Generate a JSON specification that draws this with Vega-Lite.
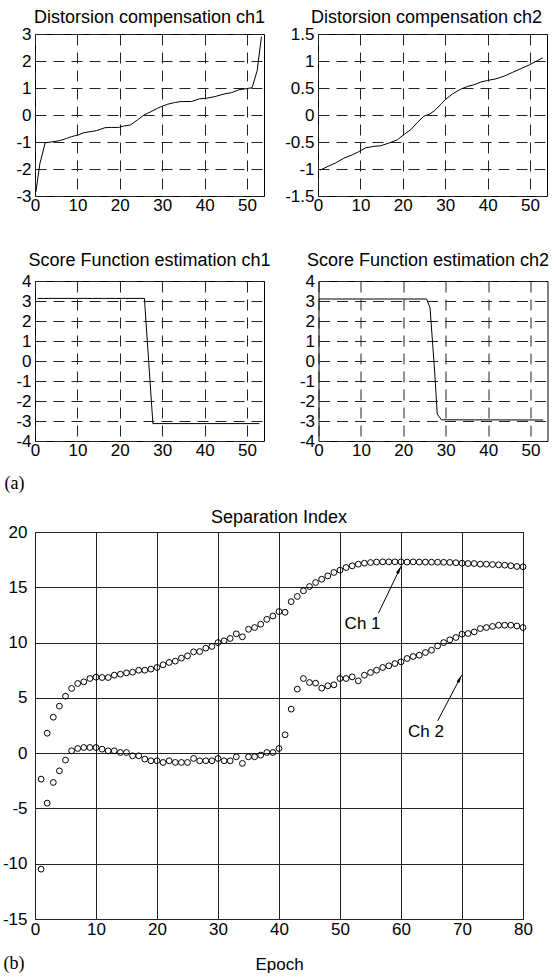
{
  "$schema": "https://vega.github.io/schema/vega-lite/v6.json",
  "background": "white",
  "padding": {"left": 0, "top": 8, "right": 3, "bottom": 2},
  "config": {
    "view": {"stroke": "black", "strokeWidth": 1},
    "axis": {
      "domain": false, "ticks": false, "tickSize": 0,
      "labelFont": "Liberation Sans", "labelFontSize": 17, "labelColor": "black",
      "gridColor": "#222", "gridOpacity": 1, "gridWidth": 1, "gridDash": [11, 7],
      "title": null, "labelFlush": false, "labelOverlap": false
    },
    "axisY": {"minExtent": 34, "maxExtent": 200},
    "title": {"font": "Liberation Sans", "fontSize": 18, "fontWeight": "normal", "color": "black", "frame": "group", "baseline": "alphabetic", "anchor": "middle"},
    "text": {"font": "Liberation Sans"}
  },
  "datasets": {
    "dc1": [{"x":0.2,"y":-2.85},{"x":1.15,"y":-1.8},{"x":2.4,"y":-1.03},{"x":4.2,"y":-0.99},{"x":5.8,"y":-0.95},{"x":7.4,"y":-0.87},{"x":8.6,"y":-0.8},{"x":10.2,"y":-0.74},{"x":11.4,"y":-0.66},{"x":12.9,"y":-0.62},{"x":14.5,"y":-0.58},{"x":16.5,"y":-0.47},{"x":18.1,"y":-0.46},{"x":19.7,"y":-0.46},{"x":20.9,"y":-0.41},{"x":22.5,"y":-0.37},{"x":24.1,"y":-0.19},{"x":25.7,"y":0},{"x":27.3,"y":0.12},{"x":28.9,"y":0.25},{"x":30.1,"y":0.33},{"x":31.3,"y":0.4},{"x":32.9,"y":0.46},{"x":34.5,"y":0.5},{"x":36.9,"y":0.5},{"x":38.8,"y":0.6},{"x":40.4,"y":0.62},{"x":42.4,"y":0.68},{"x":44.4,"y":0.77},{"x":46.4,"y":0.83},{"x":48,"y":0.93},{"x":49.6,"y":0.97},{"x":51.2,"y":1.01},{"x":52.4,"y":1.65},{"x":53.4,"y":2.9}],
    "dc2": [{"x":0.55,"y":-1.02},{"x":2.1,"y":-0.96},{"x":4.1,"y":-0.89},{"x":6.1,"y":-0.8},{"x":8.0,"y":-0.74},{"x":9.6,"y":-0.68},{"x":11.2,"y":-0.61},{"x":13.2,"y":-0.58},{"x":14.8,"y":-0.57},{"x":16.7,"y":-0.52},{"x":18.7,"y":-0.46},{"x":20.3,"y":-0.36},{"x":21.9,"y":-0.27},{"x":23.4,"y":-0.14},{"x":25.0,"y":-0.02},{"x":26.2,"y":0.01},{"x":27.4,"y":0.075},{"x":29,"y":0.2},{"x":30.1,"y":0.29},{"x":31.7,"y":0.39},{"x":33.7,"y":0.48},{"x":35.3,"y":0.53},{"x":36.8,"y":0.56},{"x":38.4,"y":0.61},{"x":40,"y":0.64},{"x":42,"y":0.67},{"x":43.9,"y":0.72},{"x":45.9,"y":0.79},{"x":47.9,"y":0.86},{"x":49.9,"y":0.93},{"x":51.8,"y":1.01},{"x":53,"y":1.06}],
    "sf1": [{"x":0.6,"y":3.13},{"x":25.8,"y":3.13},{"x":27.8,"y":-3.13},{"x":52.9,"y":-3.13}],
    "sf2": [{"x":0.1,"y":3.1},{"x":25.5,"y":3.1},{"x":26.3,"y":2.66},{"x":26.8,"y":1.21},{"x":27.4,"y":-0.56},{"x":28,"y":-2.66},{"x":29,"y":-2.94},{"x":53,"y":-2.95}],
    "sep": [
      {"epoch":1,"value":-2.35},{"epoch":2,"value":1.8},{"epoch":3,"value":3.25},{"epoch":4,"value":4.25},{"epoch":5,"value":5.15},{"epoch":6,"value":5.85},{"epoch":7,"value":6.3},{"epoch":8,"value":6.45},{"epoch":9,"value":6.75},{"epoch":10,"value":6.87},
      {"epoch":11,"value":6.84},{"epoch":12,"value":6.84},{"epoch":13,"value":7.05},{"epoch":14,"value":7.14},{"epoch":15,"value":7.26},{"epoch":16,"value":7.32},{"epoch":17,"value":7.5},{"epoch":18,"value":7.5},{"epoch":19,"value":7.6},{"epoch":20,"value":7.75},
      {"epoch":21,"value":7.99},{"epoch":22,"value":8.2},{"epoch":23,"value":8.32},{"epoch":24,"value":8.59},{"epoch":25,"value":8.8},{"epoch":26,"value":9.16},{"epoch":27,"value":9.19},{"epoch":28,"value":9.49},{"epoch":29,"value":9.65},{"epoch":30,"value":10.0},
      {"epoch":31,"value":10.16},{"epoch":32,"value":10.37},{"epoch":33,"value":10.79},{"epoch":34,"value":10.52},{"epoch":35,"value":11.2},{"epoch":36,"value":11.36},{"epoch":37,"value":11.66},{"epoch":38,"value":12.1},{"epoch":39,"value":12.4},{"epoch":40,"value":12.8},
      {"epoch":41,"value":12.74},{"epoch":42,"value":13.7},{"epoch":43,"value":14.17},{"epoch":44,"value":14.68},{"epoch":45,"value":15.07},{"epoch":46,"value":15.43},{"epoch":47,"value":15.73},{"epoch":48,"value":16.03},{"epoch":49,"value":16.34},{"epoch":50,"value":16.55},
      {"epoch":51,"value":16.79},{"epoch":52,"value":16.94},{"epoch":53,"value":17.09},{"epoch":54,"value":17.18},{"epoch":55,"value":17.24},{"epoch":56,"value":17.28},{"epoch":57,"value":17.3},{"epoch":58,"value":17.3},{"epoch":59,"value":17.3},{"epoch":60,"value":17.3},
      {"epoch":61,"value":17.28},{"epoch":62,"value":17.3},{"epoch":63,"value":17.28},{"epoch":64,"value":17.28},{"epoch":65,"value":17.27},{"epoch":66,"value":17.27},{"epoch":67,"value":17.26},{"epoch":68,"value":17.25},{"epoch":69,"value":17.22},{"epoch":70,"value":17.18},
      {"epoch":71,"value":17.15},{"epoch":72,"value":17.15},{"epoch":73,"value":17.09},{"epoch":74,"value":17.09},{"epoch":75,"value":17.06},{"epoch":76,"value":17.03},{"epoch":77,"value":17.0},{"epoch":78,"value":16.95},{"epoch":79,"value":16.88},{"epoch":80,"value":16.85},
      {"epoch":1,"value":-10.49},{"epoch":2,"value":-4.52},{"epoch":3,"value":-2.65},{"epoch":4,"value":-1.6},{"epoch":5,"value":-0.63},{"epoch":6,"value":0.21},{"epoch":7,"value":0.42},{"epoch":8,"value":0.51},{"epoch":9,"value":0.51},{"epoch":10,"value":0.51},
      {"epoch":11,"value":0.36},{"epoch":12,"value":0.21},{"epoch":13,"value":0.21},{"epoch":14,"value":0.06},{"epoch":15,"value":0.06},{"epoch":16,"value":-0.24},{"epoch":17,"value":-0.24},{"epoch":18,"value":-0.54},{"epoch":19,"value":-0.69},{"epoch":20,"value":-0.69},
      {"epoch":21,"value":-0.84},{"epoch":22,"value":-0.69},{"epoch":23,"value":-0.84},{"epoch":24,"value":-0.84},{"epoch":25,"value":-0.84},{"epoch":26,"value":-0.48},{"epoch":27,"value":-0.69},{"epoch":28,"value":-0.69},{"epoch":29,"value":-0.69},{"epoch":30,"value":-0.48},
      {"epoch":31,"value":-0.69},{"epoch":32,"value":-0.69},{"epoch":33,"value":-0.33},{"epoch":34,"value":-0.93},{"epoch":35,"value":-0.33},{"epoch":36,"value":-0.33},{"epoch":37,"value":-0.18},{"epoch":38,"value":0.06},{"epoch":39,"value":0.06},{"epoch":40,"value":0.42},
      {"epoch":41,"value":1.66},{"epoch":42,"value":3.98},{"epoch":43,"value":5.79},{"epoch":44,"value":6.75},{"epoch":45,"value":6.39},{"epoch":46,"value":6.33},{"epoch":47,"value":5.88},{"epoch":48,"value":6.09},{"epoch":49,"value":6.18},{"epoch":50,"value":6.75},
      {"epoch":51,"value":6.75},{"epoch":52,"value":6.9},{"epoch":53,"value":6.54},{"epoch":54,"value":7.05},{"epoch":55,"value":7.29},{"epoch":56,"value":7.5},{"epoch":57,"value":7.75},{"epoch":58,"value":7.9},{"epoch":59,"value":8.1},{"epoch":60,"value":8.26},
      {"epoch":61,"value":8.56},{"epoch":62,"value":8.74},{"epoch":63,"value":8.86},{"epoch":64,"value":9.1},{"epoch":65,"value":9.31},{"epoch":66,"value":9.7},{"epoch":67,"value":10.0},{"epoch":68,"value":10.25},{"epoch":69,"value":10.46},{"epoch":70,"value":10.76},
      {"epoch":71,"value":10.82},{"epoch":72,"value":10.97},{"epoch":73,"value":11.27},{"epoch":74,"value":11.36},{"epoch":75,"value":11.46},{"epoch":76,"value":11.57},{"epoch":77,"value":11.57},{"epoch":78,"value":11.57},{"epoch":79,"value":11.5},{"epoch":80,"value":11.36}
    ],
    "arrows": [
      {"label":"Ch 1","x0":56.3,"y0":12.66,"x1":60.0,"y1":16.9,"hx":59.72,"hy":16.59,"tx":53.7,"ty":11.64},
      {"label":"Ch 2","x0":66.0,"y0":2.92,"x1":69.95,"y1":7.05,"hx":69.64,"hy":6.74,"tx":64.1,"ty":1.94}
    ]
  },
  "vconcat": [
    {
      "vconcat": [
        {
          "hconcat": [
            {
              "width": 229, "height": 162,
              "title": {"text": "Distorsion compensation ch1", "offset": -2.3},
              "data": {"name": "dc1"},
              "mark": {"type": "line", "color": "black", "strokeWidth": 1},
              "encoding": {
                "x": {"field": "x", "type": "quantitative", "scale": {"domain": [0, 54], "nice": false, "zero": false}, "axis": {"values": [0,10,20,30,40,50], "labelPadding": 1}},
                "y": {"field": "y", "type": "quantitative", "scale": {"domain": [-3, 3], "nice": false}, "axis": {"values": [-3,-2,-1,0,1,2,3], "labelPadding": 4, "labelExpr": "datum.value + ''"}}
              }
            },
            {
              "width": 229, "height": 162,
              "title": {"text": "Distorsion compensation ch2", "offset": -2.3, "dx": -6},
              "data": {"name": "dc2"},
              "mark": {"type": "line", "color": "black", "strokeWidth": 1},
              "encoding": {
                "x": {"field": "x", "type": "quantitative", "scale": {"domain": [0, 54], "nice": false, "zero": false}, "axis": {"values": [0,10,20,30,40,50], "labelPadding": 1}},
                "y": {"field": "y", "type": "quantitative", "scale": {"domain": [-1.5, 1.5], "nice": false}, "axis": {"values": [-1.5,-1,-0.5,0,0.5,1,1.5], "labelPadding": 4, "labelExpr": "datum.value + ''"}}
              }
            }
          ],
          "spacing": 17
        },
        {
          "hconcat": [
            {
              "width": 229, "height": 160,
              "title": {"text": "Score Function estimation ch1", "offset": 2},
              "data": {"name": "sf1"},
              "mark": {"type": "line", "color": "black", "strokeWidth": 1},
              "encoding": {
                "x": {"field": "x", "type": "quantitative", "scale": {"domain": [0, 54], "nice": false, "zero": false}, "axis": {"values": [0,10,20,30,40,50], "labelPadding": 1}},
                "y": {"field": "y", "type": "quantitative", "scale": {"domain": [-4, 4], "nice": false}, "axis": {"values": [-4,-3,-2,-1,0,1,2,3,4], "labelPadding": 4, "labelExpr": "datum.value + ''", "title": "(a)", "titleAngle": 0, "titleX": -31, "titleY": 202, "titleAlign": "left", "titleBaseline": "middle", "titleFont": "Liberation Serif", "titleFontSize": 18, "titleFontWeight": "normal", "titleColor": "black"}}
              }
            },
            {
              "width": 229, "height": 160,
              "title": {"text": "Score Function estimation ch2", "offset": 2, "dx": -5},
              "data": {"name": "sf2"},
              "mark": {"type": "line", "color": "black", "strokeWidth": 1},
              "encoding": {
                "x": {"field": "x", "type": "quantitative", "scale": {"domain": [0, 54], "nice": false, "zero": false}, "axis": {"values": [0,10,20,30,40,50], "labelPadding": 1}},
                "y": {"field": "y", "type": "quantitative", "scale": {"domain": [-4, 4], "nice": false}, "axis": {"values": [-4,-3,-2,-1,0,1,2,3,4], "labelPadding": 4, "labelExpr": "datum.value + ''"}}
              }
            }
          ],
          "spacing": 11.5
        }
      ],
      "spacing": 37
    },
    {
      "width": 488, "height": 387,
      "title": {"text": "Separation Index", "offset": -4.3},
      "encoding": {
        "x": {"type": "quantitative", "scale": {"domain": [0, 80], "nice": false, "zero": false}},
        "y": {"type": "quantitative", "scale": {"domain": [-15, 20], "nice": false}}
      },
      "layer": [
        {
          "data": {"name": "sep"},
          "mark": {"type": "point", "shape": "circle", "filled": false, "stroke": "black", "strokeWidth": 1, "size": 34, "opacity": 1},
          "encoding": {
            "x": {"field": "epoch", "type": "quantitative", "axis": {"values": [0,10,20,30,40,50,60,70,80], "labelPadding": 2, "gridDash": [], "title": "Epoch", "titleFont": "Liberation Sans", "titleFontSize": 17, "titleFontWeight": "normal", "titleColor": "black", "titleY": 50, "titleBaseline": "alphabetic"}},
            "y": {"field": "value", "type": "quantitative", "axis": {"values": [-15,-10,-5,0,5,10,15,20], "labelPadding": 8, "gridDash": [], "labelExpr": "datum.value + ''", "title": "(b)", "titleAngle": 0, "titleX": -32, "titleY": 431, "titleAlign": "left", "titleBaseline": "middle", "titleFont": "Liberation Serif", "titleFontSize": 18, "titleFontWeight": "normal", "titleColor": "black"}}
          }
        },
        {
          "data": {"name": "arrows"},
          "mark": {"type": "rule", "color": "black", "strokeWidth": 1},
          "encoding": {
            "x": {"field": "x0", "type": "quantitative"},
            "y": {"field": "y0", "type": "quantitative"},
            "x2": {"field": "x1"},
            "y2": {"field": "y1"}
          }
        },
        {
          "data": {"name": "arrows"},
          "mark": {"type": "point", "shape": "M0,-1L-0.4,1L0.4,1Z", "filled": true, "color": "black", "size": 64, "angle": 27, "opacity": 1},
          "encoding": {
            "x": {"field": "hx", "type": "quantitative"},
            "y": {"field": "hy", "type": "quantitative"}
          }
        },
        {
          "data": {"name": "arrows"},
          "mark": {"type": "text", "fontSize": 17, "color": "black", "align": "center", "baseline": "middle"},
          "encoding": {
            "x": {"field": "tx", "type": "quantitative"},
            "y": {"field": "ty", "type": "quantitative"},
            "text": {"field": "label"}
          }
        }
      ]
    }
  ],
  "spacing": 15
}
